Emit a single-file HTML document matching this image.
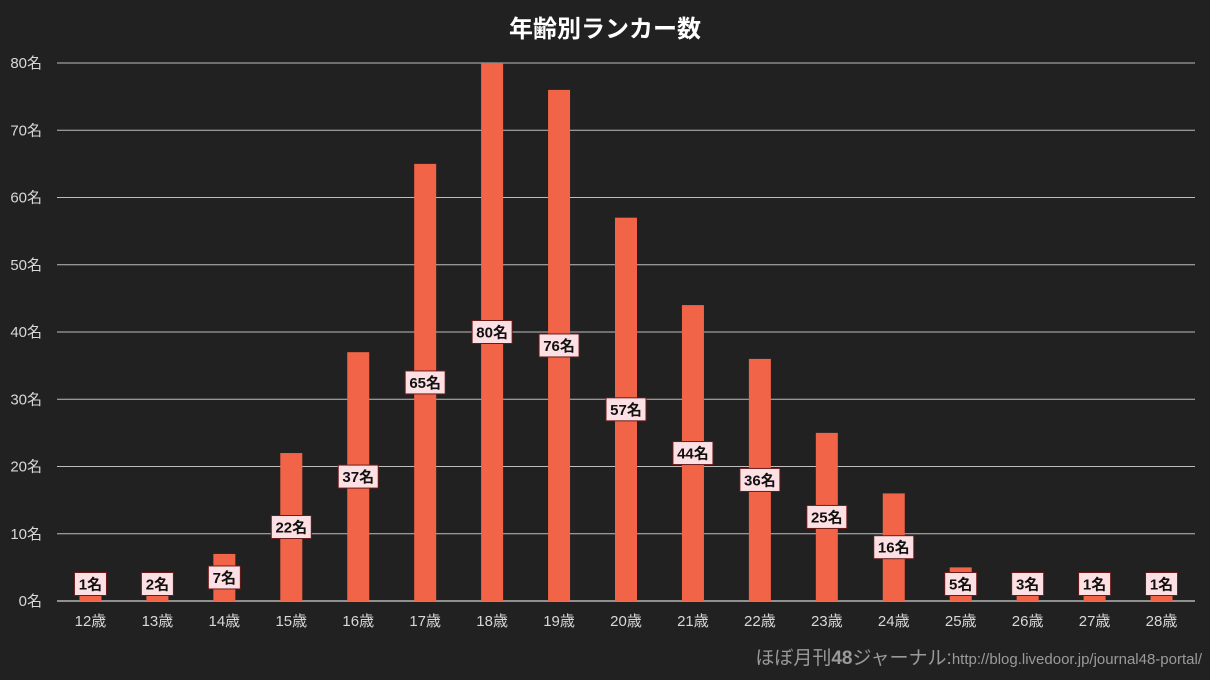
<!DOCTYPE html>
<html><head><meta charset="utf-8"><style>
body{margin:0;background:#212121;}
svg{display:block;font-family:"Liberation Sans","Noto Sans CJK JP",sans-serif;}
</style></head><body>
<svg id="c" width="1210" height="680">
<rect width="1210" height="680" fill="#212121"/>
<text x="605" y="37" text-anchor="middle" fill="#ffffff" font-size="24" font-weight="bold">年齢別ランカー数</text>
<text x="1202" y="664" text-anchor="end" fill="#9a9a9a" font-size="19">ほぼ月刊<tspan font-weight="bold">48</tspan>ジャーナル:<tspan font-size="15">http://blog.livedoor.jp/journal48-portal/</tspan></text>
<g id="grid"></g><g id="bars"></g><g id="labels"></g>
</svg>
<script>
const categories=["12歳","13歳","14歳","15歳","16歳","17歳","18歳","19歳","20歳","21歳","22歳","23歳","24歳","25歳","26歳","27歳","28歳"];
const values=[1,2,7,22,37,65,80,76,57,44,36,25,16,5,3,1,1];
const yTicks=[0,10,20,30,40,50,60,70,80];
const NS="http://www.w3.org/2000/svg";
const x0=57,x1=1195,yTop=63,yBot=601,yMax=80;
const band=(x1-x0)/categories.length;
const xc=i=>x0+band*(i+0.5);
const y=v=>yBot-(v/yMax)*(yBot-yTop);
function mk(t,a,p){const e=document.createElementNS(NS,t);for(const k in a)e.setAttribute(k,a[k]);p.appendChild(e);return e;}
const G=document.getElementById('grid'),B=document.getElementById('bars'),L=document.getElementById('labels');
yTicks.forEach(t=>{
 const l=mk('line',{x1:x0,x2:x1,y1:y(t),y2:y(t),stroke:t===0?'#ffffff':'#bdbdbd','stroke-width':1},G);
 
 
 const tx=mk('text',{x:42,y:y(t)+5,'text-anchor':'end',fill:'#d8d8d8','font-size':15},G);
 tx.textContent=t+'名';
 
 
});
categories.forEach((c,i)=>{
 const v=values[i];
 const r=mk('rect',{x:xc(i)-11,y:y(v),width:22,height:yBot-y(v),fill:'#f26447'},B);
 
 
 const tx=mk('text',{x:xc(i),y:626,'text-anchor':'middle',fill:'#d8d8d8','font-size':15},G);
 tx.textContent=c;
 
 
 const cy=Math.min((y(v)+yBot)/2,584);
 const txt=v+'名';const w=txt.length===2?32:40;
 const g=mk('g',{},L);
 
 
 mk('rect',{x:xc(i)-w/2,y:cy-11.5,width:w,height:23,fill:'#fde0e4',stroke:'#6b1a1a','stroke-width':1},g);
 const lt=mk('text',{x:xc(i),y:cy+5.5,'text-anchor':'middle',fill:'#111','font-size':15,'font-weight':'bold'},g);
 lt.textContent=txt;
});
</script>
</body></html>
